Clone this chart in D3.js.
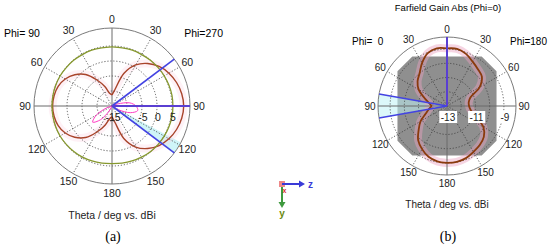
<!DOCTYPE html>
<html>
<head>
<meta charset="utf-8">
<script src="https://cdn.jsdelivr.net/npm/d3@7"></script>
<style>
  body { margin: 0; background: #fff; }
  svg { display: block; font-family: "Liberation Sans", Arial, sans-serif; }
</style>
</head>
<body>
<svg id="chart" width="550" height="246"></svg>
<script>
// theta samples, degrees (0 = top, 180 = bottom)
const theta = [0, 10, 20, 30, 40, 50, 60, 70, 80, 90, 100, 110, 120, 130, 140, 150, 160, 170, 180];
const angleTicks = [0, 30, 60, 90, 120, 150, 180];

// panel (a), dBi
const aPhi270 = [-11.3, -9.5, -3.5, 0.8, 3.5, 5.5, 6.9, 7.9, 8.6, 8.9, 8.6, 7.9, 6.9, 5.5, 3.5, 0.8, -3.5, -9.5, -11.4];
const aPhi90 = [-11.3, -10.8, -8.2, -5, -1.3, 1.2, 3.0, 4.1, 4.6, 4.8, 4.6, 4.1, 3.0, 1.2, -1.3, -5, -8.2, -10.8, -11.4];
const aGreen270 = [4.7, 4.7, 4.8, 4.8, 4.9, 5.0, 5.1, 5.2, 5.3, 5.3, 5.3, 5.2, 5.1, 5.0, 4.9, 4.7, 4.5, 4.3, 4.2];
const aGreen90 = [4.7, 4.7, 4.8, 4.8, 4.9, 4.9, 5.0, 5.0, 5.0, 5.0, 5.0, 5.0, 5.0, 4.9, 4.8, 4.7, 4.5, 4.3, 4.2];
const aCross270 = [-15, -15, -15, -15, -15, -15, -15, -13, -9, -7, -6.3, -8.5, -12.5, -15, -15, -15, -15, -15, -15];
const aCross90 = [-15, -15, -15, -15, -15, -15, -15, -15, -15, -15, -15, -13, -9, -6.6, -9, -13, -15, -15, -15];
const aRings = [-10, -5, 0, 5];
const aTickLabels = [-15, -5, 0, 5];
const aMarkers = [53, 127];
const aMainLobe = 90;
const aShade = [118, 127];

// panel (b), dBi
const bPhi180 = [-8.95, -8.92, -9.1, -9.4, -9.62, -9.8, -10.35, -11.25, -11.45, -11.45, -11.3, -10.85, -10.05, -9.62, -9.42, -9.28, -9.1, -9.02, -9.0];
const bPhi0 = [-8.95, -8.88, -9.05, -9.5, -10.0, -10.3, -10.7, -11.3, -11.7, -11.9, -11.7, -11.4, -10.85, -10.4, -9.85, -9.5, -9.2, -9.05, -9.0];
const bRings = [-12, -11, -10, -9];
const bTickLabels = [-13, -11, -9];
const bMarkers = [-80, -100];
const bMainLobe = 0;
const bShade = [-100, -80];
const bGrayTheta = [35, 55, 125, 145, -145, -125, -55, -35];
const bGrayLevel = -8.75;

const svg = d3.select("#chart");
const rad = (d) => (d * Math.PI) / 180;

function drawPanel(p) {
  const g = svg.append("g").attr("transform", `translate(${p.cx},${p.cy})`);
  const r = d3.scaleLinear().domain(p.domain).range([0, p.rMax]);
  const radial = d3.lineRadial().curve(d3.curveCatmullRom);

  // gray region (panel b)
  if (p.grayTheta) {
    g.append("path")
      .attr("d", d3.lineRadial().curve(d3.curveLinearClosed)(p.grayTheta.map((t) => [rad(t), r(p.grayLevel)])))
      .attr("fill", "#8f8f8f");
  }

  // shaded wedge round the marker
  g.append("path")
    .attr("d", d3.arc()({ innerRadius: 0, outerRadius: p.rMax, startAngle: rad(p.shade[0]), endAngle: rad(p.shade[1]) }))
    .attr("fill", "#bff2f6")
    .attr("opacity", p.shadeOpacity);

  // pink halo behind the main curves
  p.curves.forEach((c) => {
    g.append("path")
      .attr("d", radial(theta.map((t, i) => [c.sign * rad(t), r(c.values[i])])))
      .attr("fill", "none")
      .attr("stroke", p.haloColor)
      .attr("stroke-width", 8)
      .attr("opacity", p.haloOpacity);
  });

  // dotted rings
  g.selectAll(".ring")
    .data(p.rings)
    .enter()
    .append("circle")
    .attr("r", (d) => r(d))
    .attr("fill", "none")
    .attr("stroke", "#3a3a3a")
    .attr("stroke-width", 0.8)
    .attr("stroke-dasharray", "1.2,1.8");

  // dotted spokes
  const spokes = [30, 60, 120, 150, -30, -60, -120, -150];
  g.selectAll(".spoke")
    .data(spokes)
    .enter()
    .append("line")
    .attr("x1", 0)
    .attr("y1", 0)
    .attr("x2", (d) => p.rMax * Math.sin(rad(d)))
    .attr("y2", (d) => -p.rMax * Math.cos(rad(d)))
    .attr("stroke", "#3a3a3a")
    .attr("stroke-width", 0.8)
    .attr("stroke-dasharray", "1.2,1.8");

  // solid axes and outer circle
  g.append("line").attr("x1", 0).attr("x2", 0).attr("y1", -p.rMax).attr("y2", p.rMax).attr("stroke", "#6a6a6a");
  g.append("line").attr("y1", 0).attr("y2", 0).attr("x1", -p.rMax).attr("x2", p.rMax).attr("stroke", "#6a6a6a");
  g.append("circle").attr("r", p.rMax).attr("fill", "none").attr("stroke", "#7a7a7a").attr("stroke-width", 1);

  // curves
  p.curves.concat(p.extra || []).forEach((c) => {
    g.append("path")
      .attr("d", radial(theta.map((t, i) => [c.sign * rad(t), r(c.values[i])])))
      .attr("fill", "none")
      .attr("stroke", c.color)
      .attr("stroke-width", c.width);
  });

  // marker lines
  g.selectAll(".marker")
    .data(p.markers)
    .enter()
    .append("line")
    .attr("x1", 0)
    .attr("y1", 0)
    .attr("x2", (d) => p.rMax * Math.sin(rad(d)))
    .attr("y2", (d) => -p.rMax * Math.cos(rad(d)))
    .attr("stroke", "#4343e2")
    .attr("stroke-width", 1.6);
  g.append("line")
    .attr("x1", 0)
    .attr("y1", 0)
    .attr("x2", p.rMax * Math.sin(rad(p.mainLobe)))
    .attr("y2", -p.rMax * Math.cos(rad(p.mainLobe)))
    .attr("stroke", "#5a3fd2")
    .attr("stroke-width", 2);

  // angle labels
  const angLabels = angleTicks.map((t) => ({ a: t, t })).concat(
    angleTicks.filter((t) => t > 0 && t < 180).map((t) => ({ a: -t, t }))
  );
  g.selectAll(".alab")
    .data(angLabels)
    .enter()
    .append("text")
    .attr("x", (d) => p.labelR * Math.sin(rad(d.a)))
    .attr("y", (d) => -p.labelR * Math.cos(rad(d.a)))
    .attr("dy", "0.35em")
    .attr("text-anchor", "middle")
    .style("font-size", p.fontSize + "px")
    .style("fill", "#222")
    .text((d) => d.t);

  // radial labels
  const rl = g.selectAll(".rlab").data(p.tickLabels).enter().append("g");
  const rt = rl
    .append("text")
    .attr("x", (d) => r(d) + 1)
    .attr("y", 11)
    .attr("dy", "0.35em")
    .attr("text-anchor", "middle")
    .style("font-size", p.fontSize + "px")
    .style("fill", "#222")
    .text((d) => d);
  if (p.labelBoxes) {
    rt.each(function () {
      const b = this.getBBox();
      d3.select(this.parentNode)
        .insert("rect", "text")
        .attr("x", b.x - 1.5)
        .attr("y", b.y - 0.5)
        .attr("width", b.width + 3)
        .attr("height", b.height + 1)
        .attr("fill", "#fff");
    });
  }

  // titles
  svg.append("text").attr("x", p.phiLeft[0]).attr("y", p.phiLeft[1]).attr("text-anchor", "start")
    .style("font-size", p.fontSize + "px").style("white-space", "pre").text(p.phiLeft[2]);
  svg.append("text").attr("x", p.phiRight[0]).attr("y", p.phiRight[1]).attr("text-anchor", "end")
    .style("font-size", p.fontSize + "px").style("white-space", "pre").text(p.phiRight[2]);
  svg.append("text").attr("x", p.cx).attr("y", p.axisTitleY).attr("text-anchor", "middle")
    .style("font-size", p.fontSize + "px").style("fill", "#222").text("Theta / deg vs. dBi");
  svg.append("text").attr("x", p.cx + 1).attr("y", 241).attr("text-anchor", "middle")
    .style("font-family", "'Liberation Serif', 'Times New Roman', serif").style("font-size", "14px")
    .text(p.caption);
}

drawPanel({
  cx: 112, cy: 106, rMax: 78, labelR: 87, domain: [-15, 11], fontSize: 10.5,
  rings: aRings, tickLabels: aTickLabels, markers: aMarkers, mainLobe: aMainLobe,
  shade: aShade, shadeOpacity: 0.75, haloColor: "#fbd6e6", haloOpacity: 0.35,
  curves: [
    { sign: 1, values: aPhi270, color: "#a8432a", width: 1.4 },
    { sign: -1, values: aPhi90, color: "#a8432a", width: 1.4 }
  ],
  extra: [
    { sign: 1, values: aGreen270, color: "#86982e", width: 1.3 },
    { sign: -1, values: aGreen90, color: "#86982e", width: 1.3 },
    { sign: 1, values: aCross270, color: "#ff3ec4", width: 1 },
    { sign: -1, values: aCross90, color: "#ff3ec4", width: 1 }
  ],
  phiLeft: [4, 37, "Phi= 90"], phiRight: [223, 37, "Phi=270"],
  axisTitleY: 219, caption: "(a)"
});

drawPanel({
  cx: 447, cy: 106, rMax: 69, labelR: 77, domain: [-13, -8.15], fontSize: 10,
  rings: bRings, tickLabels: bTickLabels, markers: bMarkers, mainLobe: bMainLobe,
  shade: bShade, shadeOpacity: 0.55, haloColor: "#eaa2c2", haloOpacity: 0.45,
  grayTheta: bGrayTheta, grayLevel: bGrayLevel, labelBoxes: true,
  curves: [
    { sign: 1, values: bPhi180, color: "#8a3a0c", width: 1.8 },
    { sign: -1, values: bPhi0, color: "#8a3a0c", width: 1.8 }
  ],
  phiLeft: [352, 45, "Phi=  0"], phiRight: [547, 45, "Phi=180"],
  axisTitleY: 208, caption: "(b)"
});

svg.append("text").attr("x", 448).attr("y", 11).attr("text-anchor", "middle")
  .style("font-size", "9.5px").text("Farfield Gain Abs (Phi=0)");

// coordinate triad in the middle
const triad = svg.append("g").attr("transform", "translate(282,184)");
triad.append("rect").attr("x", -3).attr("y", -3).attr("width", 6).attr("height", 6).attr("fill", "#ee8888");
triad.append("line").attr("x1", 0).attr("y1", 0).attr("x2", 17).attr("y2", 0).attr("stroke", "#3a3ad8").attr("stroke-width", 2);
triad.append("path").attr("d", "M17,-3.5L23,0L17,3.5Z").attr("fill", "#3a3ad8");
triad.append("text").attr("x", 26).attr("y", 4).style("font-size", "10px").style("font-weight", "bold")
  .style("fill", "#3a3ad8").text("z");
triad.append("line").attr("x1", 0).attr("y1", 3).attr("x2", 0).attr("y2", 18).attr("stroke", "#3f9a3f").attr("stroke-width", 2);
triad.append("path").attr("d", "M-3.5,18L0,24L3.5,18Z").attr("fill", "#3f9a3f");
triad.append("text").attr("x", 0).attr("y", 33).attr("text-anchor", "middle").style("font-size", "10px")
  .style("font-weight", "bold").style("fill", "#6a8a10").text("y");
triad.append("text").attr("x", 2.5).attr("y", 9).attr("text-anchor", "middle").style("font-size", "7px")
  .style("font-weight", "bold").style("fill", "#d83030").text("x");
</script>
</body>
</html>
